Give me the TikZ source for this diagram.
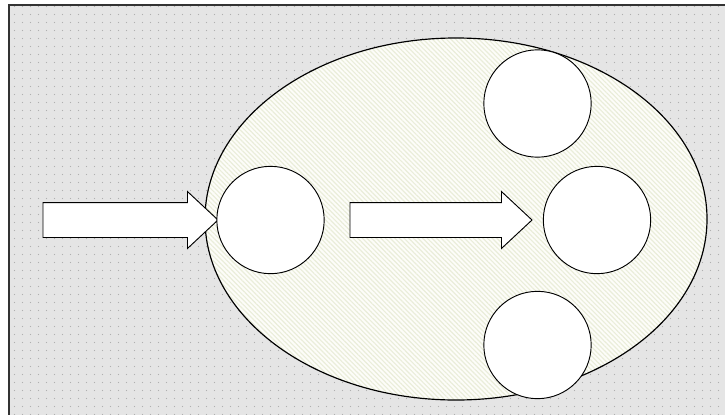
\documentclass[tikz,border=0pt]{standalone}
\usetikzlibrary{patterns.meta,shapes.arrows}

\definecolor{groundgray}{HTML}{E5E5E5}
\definecolor{dotgray}{HTML}{B0B0B0}
\definecolor{cellcream}{HTML}{FDFDF9}
\definecolor{hatchcream}{HTML}{EAEDDA}

\tikzset{
  pit/.style={circle, draw, fill=white, line width=0.8pt,
    minimum size=3.22cm, inner sep=0pt},
  flow/.style={single arrow, draw, fill=white, line width=0.8pt,
    inner xsep=0pt, inner ysep=0.51cm, single arrow head extend=0.33cm,
    single arrow tip angle=86, outer sep=0pt, anchor=tail}
}

\begin{document}
\begin{tikzpicture}[x=0.03cm,y=-0.03cm]
  \useasboundingbox (0,0) rectangle (725,414);

  % dotted ground with its frame
  \fill[groundgray] (9,5) rectangle (730,420);
  \fill[pattern={Dots[distance=6.4pt,radius=0.55pt]},pattern color=dotgray]
    (9,5) rectangle (730,420);
  \draw[line width=1pt,black!80] (9,420) -- (9,5) -- (730,5);

  % hatched cell
  \fill[cellcream] (456,219) ellipse [x radius=7.53cm, y radius=5.43cm];
  \fill[pattern={Lines[angle=-45,distance=2.8pt,line width=1pt]},
    pattern color=hatchcream] (456,219) ellipse [x radius=7.53cm, y radius=5.43cm];
  \draw[line width=1pt] (456,219) ellipse [x radius=7.53cm, y radius=5.43cm];

  % arrows and pits
  \node[flow, minimum height=5.25cm] (feed) at (43,220) {};
  \node[flow, minimum height=5.46cm] (pass) at (350,220) {};

  \node[pit] (entry) at (270.5,220) {};
  \node[pit] (upper) at (537.5,103.5) {};
  \node[pit] (exit) at (597,220) {};
  \node[pit] (lower) at (537.5,345) {};
\end{tikzpicture}
\end{document}
